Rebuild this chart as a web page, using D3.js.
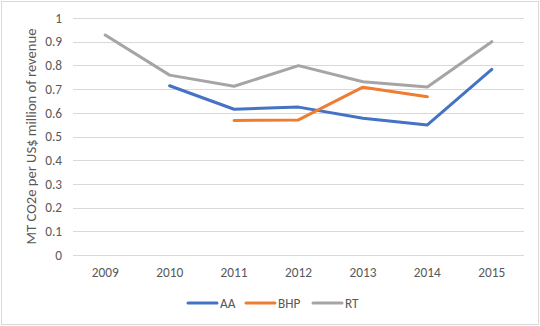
<!DOCTYPE html>
<html>
<head>
<meta charset="utf-8">
<script src="https://cdn.jsdelivr.net/npm/d3@7"></script>
<style>
    body { margin: 0; background: #fff; }
    text { font-family: Carlito, "Open Sans", sans-serif; fill: #595959; }
</style>
</head>
<body>
<div id="chart"></div>
<script>
// categories and series (null = no value that year)
var years = ['2009', '2010', '2011', '2012', '2013', '2014', '2015'];
var aaValues = [null, 0.714, 0.615, 0.624, 0.577, 0.549, 0.783];
var bhpValues = [null, null, 0.568, 0.570, 0.708, 0.668, null];
var rtValues = [0.928, 0.759, 0.712, 0.799, 0.731, 0.709, 0.900];
var seriesNames = ['AA', 'BHP', 'RT'];
var seriesColors = ['#4472C4', '#ED7D31', '#A5A5A5'];
var yTicks = [0, 0.1, 0.2, 0.3, 0.4, 0.5, 0.6, 0.7, 0.8, 0.9, 1];

var totalWidth = 540, totalHeight = 326;
var margin = { top: 18, right: 16, bottom: 71, left: 73 },
    width = totalWidth - margin.left - margin.right,
    height = totalHeight - margin.top - margin.bottom;

var svg = d3.select('#chart')
    .append('svg')
    .attr('width', totalWidth)
    .attr('height', totalHeight);

// chart area border
svg.append('rect')
    .attr('x', 1.5).attr('y', 1.5)
    .attr('width', totalWidth - 3).attr('height', totalHeight - 3)
    .attr('fill', '#fff')
    .attr('stroke', '#d9d9d9')
    .attr('stroke-width', 1);

var g = svg.append('g').attr('transform', 'translate(' + margin.left + ',' + margin.top + ')');

var xScale = d3.scaleBand()
    .domain(years)
    .range([0, width]);

var yScale = d3.scaleLinear()
    .domain([0, 1])
    .range([height, 0]);

// gridlines
g.append('g')
    .attr('class', 'grid')
    .selectAll('line')
    .data(yTicks)
    .enter()
    .append('line')
    .attr('x1', 0)
    .attr('x2', width)
    .attr('y1', function (d) { return Math.round(yScale(d)) + 0.5; })
    .attr('y2', function (d) { return Math.round(yScale(d)) + 0.5; })
    .attr('stroke', '#d9d9d9')
    .attr('stroke-width', 1);

var yAxis = d3.axisLeft(yScale)
    .tickValues(yTicks)
    .tickSize(0)
    .tickPadding(11)
    .tickFormat(function (d) { return d3.format('')(+d.toFixed(1)); });

var yAxisG = g.append('g').call(yAxis);
yAxisG.select('.domain').remove();
yAxisG.selectAll('text').attr('font-size', '13.3px').style('fill', '#595959');

var xAxis = d3.axisBottom(xScale).tickSize(0).tickPadding(13);
var xAxisG = g.append('g')
    .attr('transform', 'translate(0,' + height + ')')
    .call(xAxis);
xAxisG.select('.domain').remove();
xAxisG.selectAll('text').attr('font-size', '13.3px').style('fill', '#595959');

// y axis title
svg.append('text')
    .attr('transform', 'translate(36,' + (margin.top + height / 2) + ') rotate(-90)')
    .attr('text-anchor', 'middle')
    .attr('font-size', '14.6px')
    .text('MT CO2e per US$ million of revenue');

// lines
var allSeries = [aaValues, bhpValues, rtValues];
var line = d3.line()
    .defined(function (d) { return d != null; })
    .x(function (d, i) { return xScale(years[i]) + xScale.bandwidth() / 2; })
    .y(function (d) { return yScale(d); });

g.selectAll('.series')
    .data(allSeries)
    .enter()
    .append('path')
    .attr('class', 'series')
    .attr('fill', 'none')
    .attr('stroke', function (d, i) { return seriesColors[i]; })
    .attr('stroke-width', 3)
    .attr('stroke-linejoin', 'round')
    .attr('stroke-linecap', 'round')
    .attr('d', line);

// legend
var legendX = [188, 246, 313];
var legend = svg.append('g').attr('transform', 'translate(0,303)');
seriesNames.forEach(function (name, i) {
    legend.append('line')
        .attr('x1', legendX[i]).attr('x2', legendX[i] + 29)
        .attr('y1', 0).attr('y2', 0)
        .attr('stroke', seriesColors[i])
        .attr('stroke-width', 3)
        .attr('stroke-linecap', 'round');
    legend.append('text')
        .attr('x', legendX[i] + 32)
        .attr('y', 4.5)
        .attr('font-size', '13.3px')
        .text(name);
});
</script>
</body>
</html>
